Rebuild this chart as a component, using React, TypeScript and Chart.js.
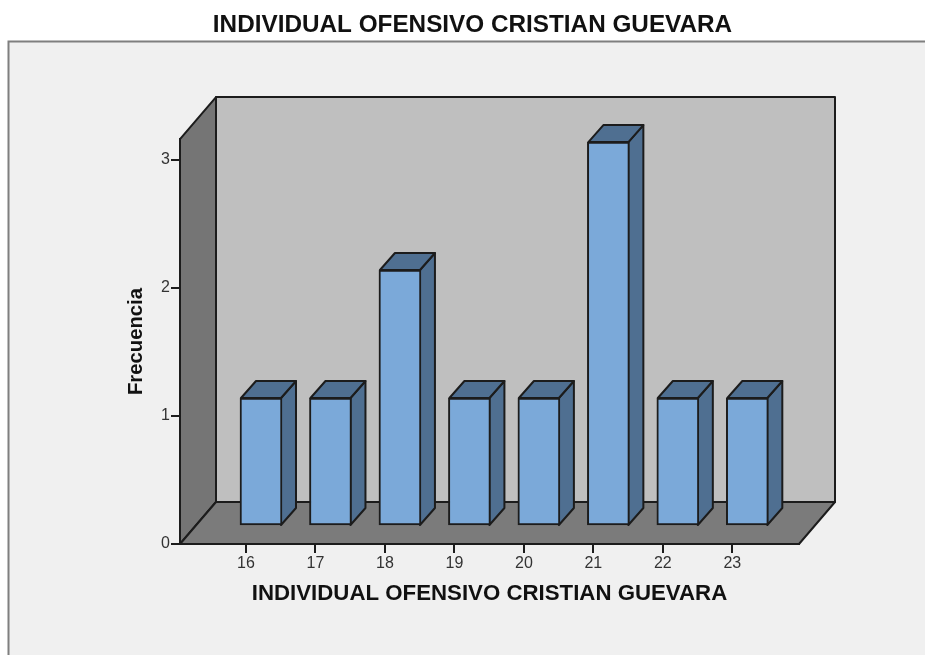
import React, { useEffect, useRef } from "react";
import { Chart, registerables } from "chart.js";

Chart.register(...registerables);

const titleText = "INDIVIDUAL OFENSIVO CRISTIAN GUEVARA";
const yTitle = "Frecuencia";
const categories = [16, 17, 18, 19, 20, 21, 22, 23];
const frequencies = [1, 1, 2, 1, 1, 3, 1, 1];
const yTicks = [0, 1, 2, 3];

const FONT = "'Liberation Sans', Arial, sans-serif";
const INK = "#1c1c1c";
const WALL_DX = 36;
const WALL_DY = 42;
const BAR_DX = 15;
const BAR_DY = 18;
const BAR_W = 40;

function poly(ctx: CanvasRenderingContext2D, pts: number[][], fill: string, lw = 2) {
  ctx.beginPath();
  pts.forEach((p, i) => (i ? ctx.lineTo(p[0], p[1]) : ctx.moveTo(p[0], p[1])));
  ctx.closePath();
  ctx.fillStyle = fill;
  ctx.fill();
  ctx.lineWidth = lw;
  ctx.strokeStyle = INK;
  ctx.lineJoin = "round";
  ctx.stroke();
}

const scene3d = {
  id: "scene3d",
  beforeDraw(chart: any) {
    const { ctx, chartArea: a } = chart;
    ctx.save();
    ctx.fillStyle = "#ffffff";
    ctx.fillRect(0, 0, chart.width, chart.height);
    ctx.fillStyle = "#f0f0f0";
    ctx.fillRect(9, 42, chart.width - 9, chart.height - 42);
    ctx.strokeStyle = "#7f7f7f";
    ctx.lineWidth = 2;
    ctx.beginPath();
    ctx.moveTo(8.5, chart.height);
    ctx.lineTo(8.5, 41.5);
    ctx.lineTo(chart.width, 41.5);
    ctx.stroke();
    const dx = WALL_DX;
    const dy = WALL_DY;
    poly(ctx, [[a.left + dx, a.top - dy], [a.right + dx, a.top - dy], [a.right + dx, a.bottom - dy], [a.left + dx, a.bottom - dy]], "#bfbfbf");
    poly(ctx, [[a.left, a.top], [a.left + dx, a.top - dy], [a.left + dx, a.bottom - dy], [a.left, a.bottom]], "#757575");
    poly(ctx, [[a.left, a.bottom], [a.left + dx, a.bottom - dy], [a.right + dx, a.bottom - dy], [a.right, a.bottom]], "#7b7b7b");
    ctx.restore();
  },
  beforeDatasetsDraw(chart: any) {
    const { ctx } = chart;
    const els = chart.getDatasetMeta(0).data;
    ctx.save();
    els.forEach((el: any) => {
      const r = el.x + BAR_DX + BAR_W / 2;
      const l = el.x + BAR_DX - BAR_W / 2;
      const t = el.y - BAR_DY;
      const b = el.base - BAR_DY;
      poly(ctx, [[r, t], [r + BAR_DX, t - 17], [r + BAR_DX, b - 17], [r, b]], "#4f6f91", 2);
      poly(ctx, [[l, t], [l + BAR_DX, t - 17], [r + BAR_DX, t - 17], [r, t]], "#4f6f91", 2);
    });
    ctx.restore();
    ctx.save();
    ctx.translate(BAR_DX, -BAR_DY);
  },
  afterDatasetsDraw(chart: any) {
    chart.ctx.restore();
  },
};

export default function App() {
  const ref = useRef<HTMLCanvasElement>(null);
  useEffect(() => {
    const chart = new Chart(ref.current!, {
      type: "bar",
      data: {
        datasets: [
          {
            data: categories.map((c, i) => ({ x: c, y: frequencies[i] })),
            backgroundColor: "#7ba9d9",
            borderColor: INK,
            borderWidth: 2,
            borderSkipped: false,
            barThickness: BAR_W + 2,
            clip: false,
          } as any,
        ],
      },
      plugins: [scene3d],
      options: {
        responsive: false,
        animation: false,
        layout: { padding: { left: 20, right: 0, top: 0, bottom: 0 } },
        plugins: {
          legend: { display: false },
          tooltip: { enabled: false },
          title: {
            display: true,
            text: titleText,
            color: "#111111",
            font: { family: FONT, size: 24.3, weight: "bold", lineHeight: 1.2 },
            padding: { top: 11, bottom: 98.9 },
          },
        },
        scales: {
          x: {
            type: "linear",
            offset: false,
            min: 15.05,
            max: 23.96,
            afterFit: (s: any) => {
              s.height = 111;
            },
            afterBuildTicks: (s: any) => {
              s.ticks = categories.map((value) => ({ value }));
            },
            ticks: {
              autoSkip: false,
              maxRotation: 0,
              color: "#333333",
              padding: 1,
              font: { family: FONT, size: 16 },
            },
            grid: { offset: false, drawOnChartArea: false, drawTicks: true, tickLength: 9, color: INK, lineWidth: 2 },
            border: { display: true, color: INK, width: 2 },
            title: {
              display: true,
              text: titleText,
              color: "#111111",
              font: { family: FONT, size: 22.25, weight: "bold", lineHeight: 1.2 },
              padding: { top: 0, bottom: 47.6 },
            },
          },
          y: {
            type: "linear",
            position: "left",
            min: 0,
            max: 3.164,
            afterFit: (s: any) => {
              s.width = 160;
            },
            afterBuildTicks: (s: any) => {
              s.ticks = yTicks.map((value) => ({ value }));
            },
            ticks: {
              color: "#333333",
              padding: 1,
              font: { family: FONT, size: 16 },
            },
            grid: { drawOnChartArea: false, drawTicks: true, tickLength: 9, color: INK, lineWidth: 2 },
            border: { display: true, color: INK, width: 2 },
            title: {
              display: true,
              text: yTitle,
              color: "#111111",
              font: { family: FONT, size: 20.3, weight: "bold", lineHeight: 1.2 },
              padding: { top: 104, bottom: 0 },
            },
          },
          y2: {
            type: "linear",
            position: "right",
            display: true,
            afterFit: (s: any) => {
              s.width = 126;
            },
            ticks: { display: false },
            grid: { display: false },
            border: { display: false },
          },
        },
      } as any,
    });
    return () => chart.destroy();
  }, []);
  return (
    <canvas
      ref={ref}
      width={925}
      height={655}
      style={{ position: "absolute", left: 0, top: 0, display: "block" }}
    />
  );
}
